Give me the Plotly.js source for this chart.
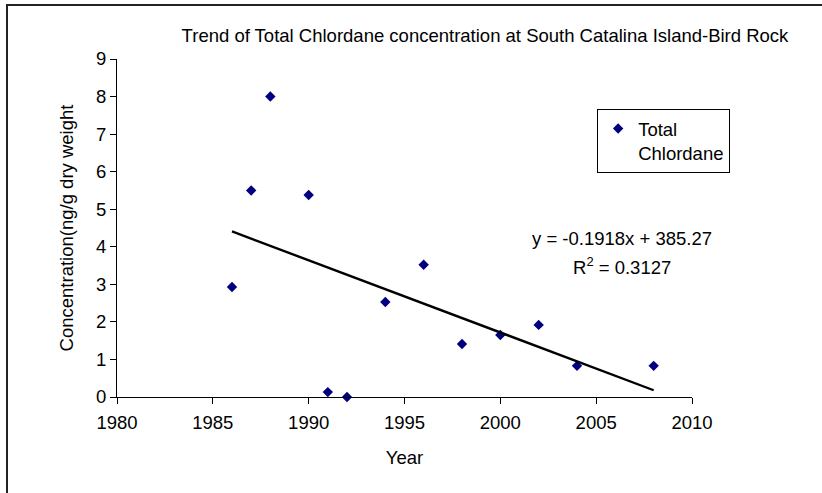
<!DOCTYPE html>
<html>
<head>
<meta charset="utf-8">
<script src="https://cdn.plot.ly/plotly-3.0.1.min.js"></script>
<style>
  html, body { margin: 0; padding: 0; background: #fff; }
  #chart { width: 822px; height: 493px; position: absolute; left: 0; top: 0; }
  #frame { position: absolute; left: 6px; top: 4px; width: 830px; height: 500px;
           border-top: 2px solid #222; border-left: 2px solid #222; pointer-events: none; }
</style>
</head>
<body>
<div id="chart"></div>
<div id="frame"></div>
<script>
// ---- data ----
const years = [1986, 1987, 1988, 1990, 1991, 1992, 1994, 1996, 1998, 2000, 2002, 2004, 2008];
const chlordane = [2.93, 5.50, 8.00, 5.38, 0.13, 0.00, 2.53, 3.52, 1.41, 1.65, 1.92, 0.83, 0.83];
const seriesName = "Total<br>Chlordane";
const chartTitle = "Trend of Total Chlordane concentration at South Catalina Island-Bird Rock";
const xTitle = "Year";
const yTitle = "Concentration(ng/g dry weight";
const equationText = "y = -0.1918x + 385.27";
const r2Text = "R<sup>2</sup> = 0.3127";

// ---- linear trend (least squares from the data) ----
const n = years.length;
const mx = years.reduce((a, b) => a + b, 0) / n;
const my = chlordane.reduce((a, b) => a + b, 0) / n;
let sxy = 0, sxx = 0;
for (let i = 0; i < n; i++) { sxy += (years[i] - mx) * (chlordane[i] - my); sxx += (years[i] - mx) ** 2; }
const slope = sxy / sxx;
const intercept = my - slope * mx;
const trendX = [Math.min(...years), Math.max(...years)];
const trendY = trendX.map(x => slope * x + intercept);

const font = "Liberation Sans, Arial, sans-serif";
const fs = 18.5;

const traces = [
  {
    x: years, y: chlordane, type: "scatter", mode: "markers", name: seriesName,
    marker: { symbol: "diamond", size: 8, color: "#000080" },
    showlegend: true, cliponaxis: false
  },
  {
    x: trendX, y: trendY, type: "scatter", mode: "lines", name: "trend",
    line: { color: "#000000", width: 2.4 }, showlegend: false
  }
];

const layout = {
  width: 822, height: 493,
  margin: { l: 117, r: 130, t: 59, b: 96 },
  paper_bgcolor: "#ffffff", plot_bgcolor: "#ffffff",
  font: { family: font, color: "#000000", size: fs },
  title: {
    text: chartTitle, font: { family: font, size: 18.5, color: "#000" },
    xref: "container", yref: "container", x: 0.59, xanchor: "center", y: 0.927, yanchor: "middle"
  },
  xaxis: {
    range: [1980, 2010], tick0: 1980, dtick: 5, tickmode: "linear",
    showgrid: false, zeroline: false, showline: true, linecolor: "#000", linewidth: 1,
    ticks: "outside", ticklen: 6, tickcolor: "#000", tickfont: { size: fs },
    ticklabelstandoff: 3,
    title: { text: xTitle, font: { size: fs }, standoff: 18 }
  },
  yaxis: {
    range: [0, 9], tick0: 0, dtick: 1, tickmode: "linear",
    showgrid: false, zeroline: false, showline: true, linecolor: "#000", linewidth: 1,
    ticks: "outside", ticklen: 6, tickcolor: "#000", tickfont: { size: fs },
    title: { text: yTitle, font: { size: fs }, standoff: 17 }
  },
  showlegend: true,
  legend: {
    x: 0.835, y: 0.852, xanchor: "left", yanchor: "top",
    bordercolor: "#000", borderwidth: 1, bgcolor: "#fff",
    font: { size: fs }, itemwidth: 30, tracegroupgap: 0, valign: "top"
  },
  annotations: [
    { text: equationText, xref: "paper", yref: "paper", x: 0.878, y: 0.47,
      xanchor: "center", yanchor: "middle", showarrow: false, font: { size: fs } },
    { text: r2Text, xref: "paper", yref: "paper", x: 0.878, y: 0.388,
      xanchor: "center", yanchor: "middle", showarrow: false, font: { size: fs } }
  ]
};

Plotly.newPlot("chart", traces, layout, { displayModeBar: false, staticPlot: true });
</script>
</body>
</html>
